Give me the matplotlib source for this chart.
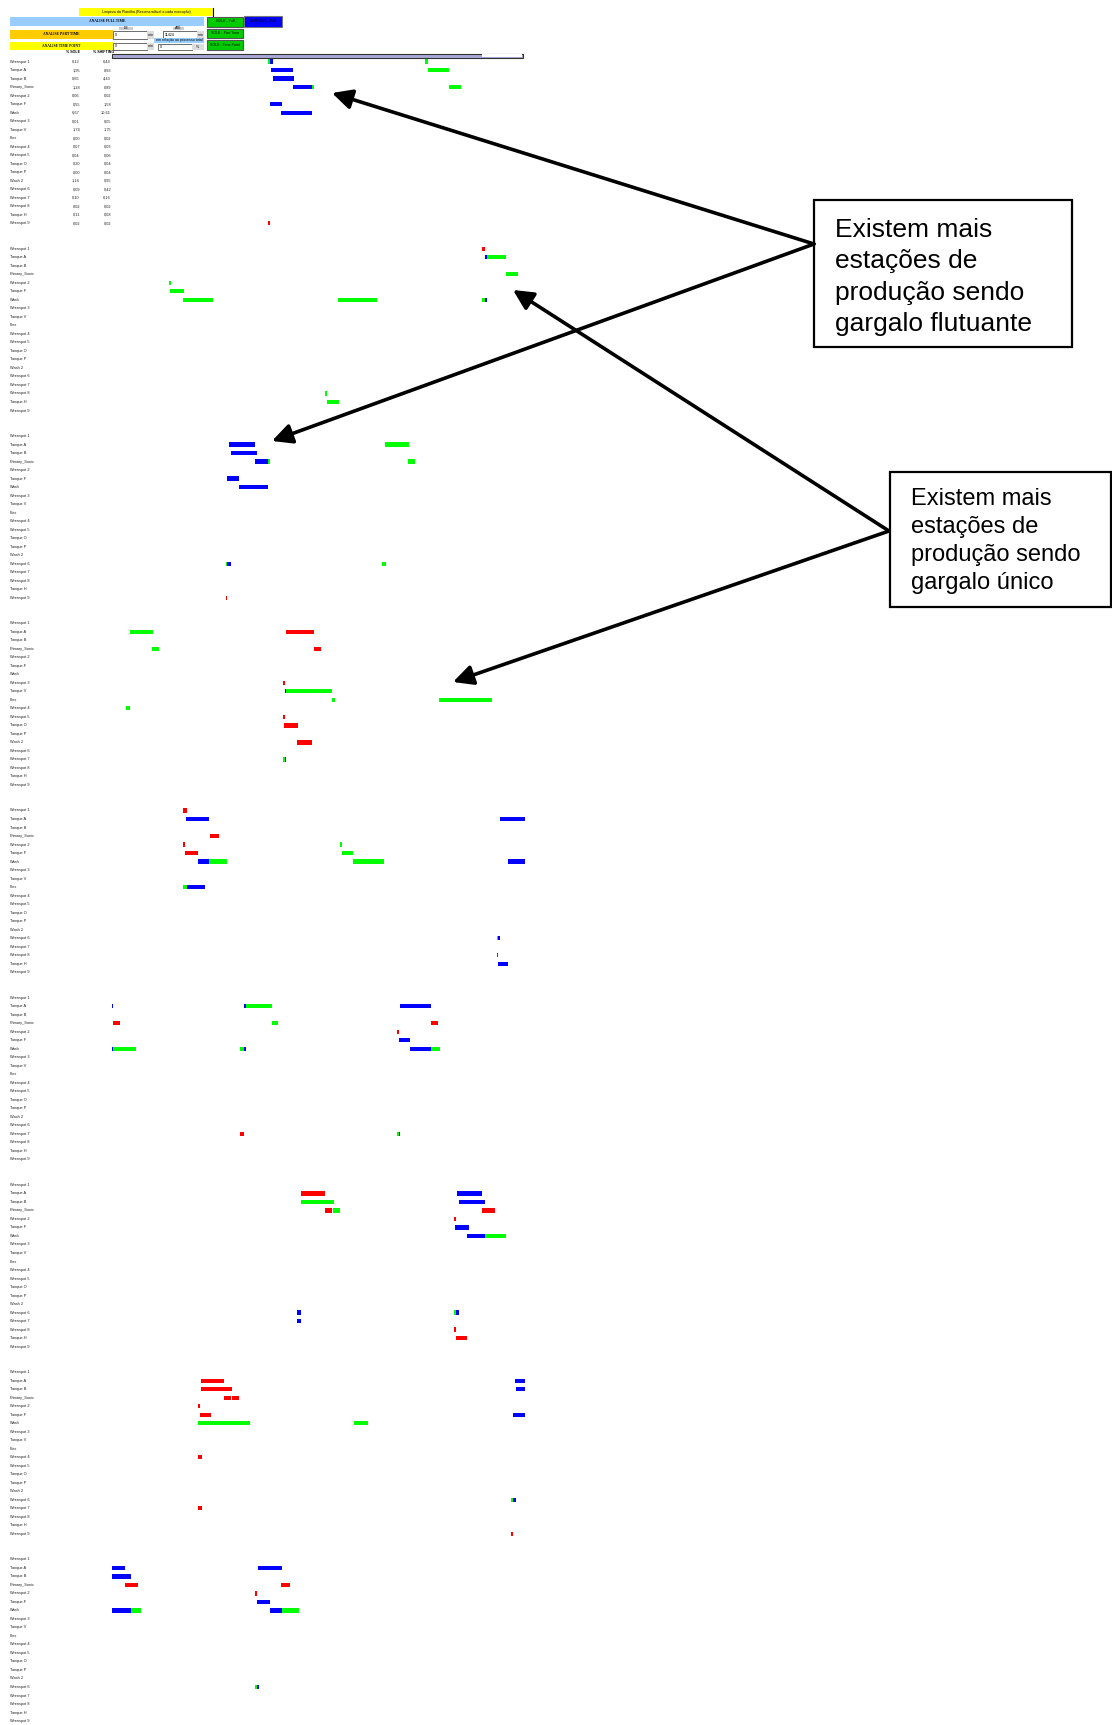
import matplotlib
matplotlib.use('Agg')
import matplotlib.pyplot as plt
from matplotlib.patches import Rectangle, FancyArrowPatch
from matplotlib.transforms import blended_transform_factory

plt.rcParams['font.family'] = ['Liberation Sans', 'DejaVu Sans']

W, H = 1112, 1725

# estacoes (mesma lista em cada um dos 9 blocos)
stations = ['Wrenspot 1', 'Tanque A', 'Tanque B', 'Primary_Sonic', 'Wrenspot 2',
            'Tanque F', 'Wash', 'Wrenspot 3', 'Tanque V', 'Flex', 'Wrenspot 4',
            'Wrenspot 5', 'Tanque O', 'Tanque P', 'Wash 2', 'Wrenspot 6',
            'Wrenspot 7', 'Wrenspot 8', 'Tanque H', 'Wrenspot 9']
sole_pct = ['0,12', '1,95', '0,65', '1,28', '0,06', '0,55', '6,67', '0,01', '1,74', '0,00',
            '0,07', '0,04', '0,20', '0,00', '1,16', '0,09', '0,10', '0,02', '0,11', '0,02']
shift_pct = ['0,44', '8,93', '4,43', '0,89', '0,02', '1,58', '10,61', '0,05', '1,75', '0,02',
             '0,03', '0,06', '0,04', '0,04', '0,95', '0,42', '0,16', '0,02', '0,08', '0,02']
n_blocks = 9
total_min = 11424

# barras: (bloco, linha, inicio_min, fim_min)
blue_bars = [
    (0, 0, 4361, 4453), (0, 1, 4398, 5006), (0, 2, 4453, 5034), (0, 3, 5006, 5532),
    (0, 5, 4370, 4702), (0, 6, 4675, 5532),
    (1, 1, 10317, 10373), (1, 6, 10317, 10373),
    (2, 1, 3236, 3955), (2, 2, 3292, 4011), (2, 3, 3955, 4315), (2, 5, 3181, 3513),
    (2, 6, 3513, 4315), (2, 15, 3181, 3292),
    (3, 8, 4785, 4813), (3, 16, 4785, 4813),
    (4, 1, 2047, 2683), (4, 1, 10732, 11424), (4, 6, 2379, 2683), (4, 6, 10953, 11424),
    (4, 9, 2075, 2572), (4, 15, 10677, 10732), (4, 18, 10677, 10953),
    (5, 1, 0, 28), (5, 1, 3651, 3706), (5, 1, 7966, 8824), (5, 5, 7938, 8243),
    (5, 6, 0, 28), (5, 6, 3651, 3706), (5, 6, 8243, 8824), (5, 16, 7938, 7966),
    (6, 1, 9543, 10234), (6, 2, 9598, 10317), (6, 5, 9487, 9875), (6, 6, 9819, 10317),
    (6, 15, 5117, 5228), (6, 15, 9515, 9598), (6, 16, 5117, 5228),
    (7, 1, 11147, 11424), (7, 2, 11175, 11424), (7, 5, 11092, 11424), (7, 15, 11092, 11175),
    (8, 1, 0, 360), (8, 1, 4038, 4702), (8, 2, 0, 526), (8, 5, 4011, 4370),
    (8, 6, 0, 526), (8, 6, 4370, 4702), (8, 15, 4011, 4066),
]
green_bars = [
    (0, 0, 4315, 4361), (0, 0, 8658, 8741), (0, 1, 8741, 9321), (0, 3, 5532, 5578),
    (0, 3, 9321, 9653),
    (1, 1, 10373, 10898), (1, 3, 10898, 11230), (1, 4, 1567, 1632), (1, 5, 1604, 1992),
    (1, 6, 1964, 2794), (1, 6, 6251, 7330), (1, 6, 10234, 10317), (1, 17, 5901, 5947),
    (1, 18, 5947, 6279),
    (2, 1, 7551, 8215), (2, 3, 4315, 4370), (2, 3, 8187, 8381), (2, 15, 3153, 3181),
    (2, 15, 7468, 7579),
    (3, 1, 498, 1134), (3, 3, 1106, 1300), (3, 8, 4813, 6085), (3, 9, 6085, 6168),
    (3, 9, 9045, 10511), (3, 10, 387, 498), (3, 16, 4730, 4785),
    (4, 4, 6306, 6362), (4, 5, 6362, 6666), (4, 6, 2683, 3181), (4, 6, 6666, 7524),
    (4, 9, 1964, 2075), (4, 15, 10649, 10677),
    (5, 1, 3706, 4426), (5, 3, 4426, 4592), (5, 6, 28, 664), (5, 6, 3540, 3651),
    (5, 6, 8824, 9072), (5, 16, 7883, 7938),
    (6, 2, 5228, 6141), (6, 3, 6113, 6306), (6, 6, 10317, 10898), (6, 15, 9460, 9515),
    (7, 6, 2379, 3817), (7, 6, 6694, 7081), (7, 15, 11036, 11092),
    (8, 6, 526, 802), (8, 6, 4702, 5172), (8, 15, 3955, 4011),
]
red_bars = [
    (0, 19, 4315, 4370),
    (1, 0, 10234, 10317),
    (2, 19, 3153, 3181),
    (3, 1, 4813, 5587), (3, 3, 5587, 5781), (3, 7, 4730, 4785), (3, 11, 4730, 4785),
    (3, 12, 4758, 5145), (3, 14, 5117, 5532),
    (4, 0, 1964, 2075), (4, 3, 2711, 2960), (4, 4, 1964, 2019), (4, 5, 2019, 2379),
    (4, 17, 10649, 10677),
    (5, 3, 28, 221), (5, 3, 8824, 9017), (5, 4, 7883, 7938), (5, 16, 3540, 3651),
    (6, 1, 5228, 5892), (6, 3, 5892, 6085), (6, 3, 10234, 10594), (6, 4, 9460, 9515),
    (6, 17, 9460, 9515), (6, 18, 9515, 9819),
    (7, 1, 2462, 3098), (7, 2, 2462, 3319), (7, 3, 3098, 3292), (7, 3, 3319, 3513),
    (7, 4, 2379, 2434), (7, 5, 2434, 2738), (7, 10, 2379, 2489), (7, 16, 2379, 2489),
    (7, 19, 11036, 11092),
    (8, 3, 360, 719), (8, 3, 4675, 4923), (8, 4, 3955, 4011),
]

ROW0, ROW_H, BLOCK = 61.6, 8.51, 22

fig = plt.figure(figsize=(W / 100, H / 100), dpi=100)

# eixo do gantt: x em minutos, y em linhas
ax = fig.add_axes([112 / W, 0, 413 / W, 1])
ax.set_xlim(0, total_min)
ax.set_ylim((H - ROW0) / ROW_H, -ROW0 / ROW_H)
ax.axis('off')

for bars, col in [(blue_bars, '#0000ff'), (green_bars, '#00ff00'), (red_bars, '#ff0000')]:
    ys = [b * BLOCK + r for b, r, s, e in bars]
    ax.barh(ys, [e - s for b, r, s, e in bars], left=[s for b, r, s, e in bars],
            height=0.5, color=col, linewidth=0)

trans = blended_transform_factory(fig.transFigure, ax.transData)
for b in range(n_blocks):
    for r, name in enumerate(stations):
        ax.text(10 / W, b * BLOCK + r, name, transform=trans, fontsize=2.8,
                va='center', ha='left', color='#222222', clip_on=False)
for r in range(len(stations)):
    ax.text(80 / W, r, sole_pct[r], transform=trans, fontsize=2.8, va='center',
            ha='right', color='#222222', clip_on=False)
    ax.text(111 / W, r, shift_pct[r], transform=trans, fontsize=2.8, va='center',
            ha='right', color='#222222', clip_on=False)

# camada de cima em pixels: cabecalho da planilha e anotacoes
ov = fig.add_axes([0, 0, 1, 1])
ov.set_xlim(0, W)
ov.set_ylim(H, 0)
ov.axis('off')
ov.patch.set_alpha(0)


def box(x0, y0, x1, y1, fc, ec='none', lw=0.6, text='', fs=2.6, bold=False,
        serif=False, tc='black', ha='center'):
    ov.add_patch(Rectangle((x0, y0), x1 - x0, y1 - y0, facecolor=fc, edgecolor=ec,
                           linewidth=lw))
    if text:
        tx = (x0 + x1) / 2 if ha == 'center' else x0 + 2
        ov.text(tx, (y0 + y1) / 2, text, fontsize=fs, ha=ha, va='center', color=tc,
                fontweight='bold' if bold else 'normal',
                family=['Liberation Serif'] if serif else ['Liberation Sans'])


box(79, 8, 213, 15.5, '#ffff00', text='Limpeza da Planilha (Recomendável a cada execução)')
ov.plot([213, 213], [8, 15.5], color='black', lw=0.8)
box(10, 17, 204, 25.5, '#99ccff', text='ANALISE FULL TIME', bold=True, serif=True)
box(207, 16.5, 243, 26.5, '#00cc00', ec='#555555', lw=0.8, text='SOLE - Full')
box(244, 16, 282, 26.5, '#0000ff', ec='#777777', lw=0.8, text='SHIFTING - Full')
box(119, 26.5, 133, 30, '#cccccc', text='DE')
box(173, 26.5, 184, 30, '#cccccc', text='ATÉ')
box(10, 30, 113, 38.5, '#ffcc00', text='ANALISE PART TIME', bold=True, serif=True)
box(113, 31, 147, 38.5, 'white', ec='#333333', lw=0.5, text='0', ha='left')
box(147, 31, 154, 38.5, '#dddddd', text='min')
box(163, 31, 197, 38.5, 'white', ec='#333333', lw=0.5, text='11424', ha='left')
box(197, 31, 204, 38.5, '#dddddd', text='min')
box(207, 28.5, 243, 38, '#00cc00', ec='#555555', lw=0.8, text='SOLE - Part Time')
box(154, 38, 204, 43, '#99ccff', text='em relação ao processo total')
box(10, 42, 113, 49.5, '#ffff00', text='ANALISE TIME POINT', bold=True, serif=True)
box(113, 42.5, 147, 49.5, 'white', ec='#333333', lw=0.5, text='0', ha='left')
box(147, 42.5, 154, 49.5, '#dddddd', text='min')
box(158, 43.5, 192, 50, 'white', ec='#333333', lw=0.5, text='0', ha='left')
box(192, 43.5, 204, 50, '#dddddd', text='%')
box(207, 40, 243, 50, '#00cc00', ec='#555555', lw=0.8, text='SOLE - Time Point')
ov.text(73, 52, '% SOLE', fontsize=2.6, ha='center', va='center', fontweight='bold')
ov.text(104, 52, '% SHIFTING', fontsize=2.6, ha='center', va='center', fontweight='bold')
# faixa de tempo acima do gantt
box(112, 53.5, 523, 57.5, '#a9a9d6', ec='#333333', lw=0.8)
box(482, 54, 522, 57, 'white')

# anotacoes
box(814, 200, 1072, 347, 'white', ec='black', lw=1.6)
ov.text(835, 277, 'Existem mais\nestações de\nprodução sendo\ngargalo flutuante',
        fontsize=19, ha='left', va='center', linespacing=1.39)
box(890, 472, 1111, 607, 'white', ec='black', lw=1.6)
ov.text(911, 541, 'Existem mais\nestações de\nprodução sendo\ngargalo único',
        fontsize=17, ha='left', va='center', linespacing=1.34)

for (x0, y0), (x1, y1) in [((814, 244), (332, 93)), ((814, 244), (272, 441)),
                           ((889, 531), (513, 290)), ((889, 531), (453, 682))]:
    ov.add_patch(FancyArrowPatch((x0, y0), (x1, y1), arrowstyle='-|>', mutation_scale=30,
                                 color='black', lw=2.6, shrinkA=0, shrinkB=0))

fig.savefig('out.png', dpi=100)
